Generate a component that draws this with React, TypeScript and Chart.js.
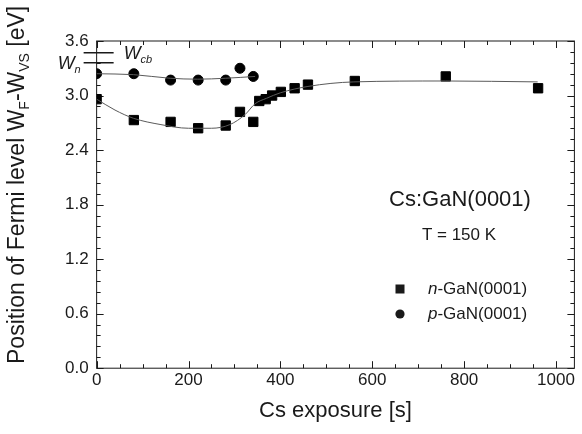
import React, { useEffect, useRef } from 'react';
import { Chart, registerables } from 'chart.js';

Chart.register(...registerables);

// ---- data ----
const nExposure = [0, 81, 161, 221, 281, 312, 341, 354, 368, 382, 401, 431, 460, 562, 760, 961];
const nLevel = [2.96, 2.73, 2.71, 2.64, 2.67, 2.82, 2.71, 2.94, 2.96, 3.0, 3.04, 3.08, 3.12, 3.16, 3.21, 3.08];
const pExposure = [0, 81, 161, 221, 281, 312, 341];
const pLevel = [3.24, 3.24, 3.17, 3.17, 3.17, 3.3, 3.21];

const nFitExposure = [0, 40, 80, 140, 200, 250, 290, 323, 345, 370, 400, 460, 560, 760, 960];
const nFitLevel = [2.96, 2.84, 2.75, 2.68, 2.64, 2.64, 2.68, 2.79, 2.91, 2.97, 3.03, 3.1, 3.15, 3.16, 3.15];
const pFitExposure = [0, 80, 160, 220, 280, 345];
const pFitLevel = [3.24, 3.23, 3.19, 3.18, 3.19, 3.21];

const xTicks = [0, 200, 400, 600, 800, 1000];
const xMinorTicks = [50, 100, 150, 250, 300, 350, 450, 500, 550, 650, 700, 750, 850, 900, 950];
const yTicks = [0, 0.6, 1.2, 1.8, 2.4, 3.0, 3.6];
const yMinorTicks = [0.12, 0.24, 0.36, 0.48, 0.72, 0.84, 0.96, 1.08, 1.32, 1.44, 1.56, 1.68, 1.92, 2.04, 2.16, 2.28, 2.52, 2.64, 2.76, 2.88, 3.12, 3.24, 3.36, 3.48];

const levelValues = [3.47, 3.36];
const levelNames = ['cb', 'n'];

const seriesNames = ['n', 'p'];
const sampleName = 'Cs:GaN(0001)';
const tempLabel = 'T = 150 K';
const xTitle = 'Cs exposure [s]';

const FONT = "Arial, 'Liberation Sans', sans-serif";
const INK = '#1a1a1a';

const toPts = (xs: number[], ys: number[]) => xs.map((x, i) => ({ x, y: ys[i] }));

const decorPlugin = {
  id: 'decor',
  beforeDatasetsDraw(chart: any) {
    const { ctx, chartArea: ca, scales } = chart;
    const xs = scales.x;
    const ys = scales.y;
    ctx.save();
    ctx.strokeStyle = INK;
    ctx.lineWidth = 1;
    ctx.strokeRect(ca.left, ca.top, ca.right - ca.left, ca.bottom - ca.top);
    const tick = (vals: number[], len: number) => {
      ctx.beginPath();
      vals.forEach((v) => {
        const px = Math.round(xs.getPixelForValue(v)) + 0.5;
        ctx.moveTo(px, ca.bottom);
        ctx.lineTo(px, ca.bottom - len);
        ctx.moveTo(px, ca.top);
        ctx.lineTo(px, ca.top + len);
      });
      ctx.stroke();
    };
    const tickY = (vals: number[], len: number) => {
      ctx.beginPath();
      vals.forEach((v) => {
        const py = Math.round(ys.getPixelForValue(v)) + 0.5;
        ctx.moveTo(ca.left, py);
        ctx.lineTo(ca.left + len, py);
        ctx.moveTo(ca.right, py);
        ctx.lineTo(ca.right - len, py);
      });
      ctx.stroke();
    };
    tick(xTicks, 7);
    tick(xMinorTicks, 4);
    tickY(yTicks, 7);
    tickY(yMinorTicks, 4);

    // band-level markers
    ctx.lineWidth = 1.6;
    ctx.beginPath();
    levelValues.forEach((v) => {
      const py = ys.getPixelForValue(v);
      ctx.moveTo(ca.left - 13, py);
      ctx.lineTo(ca.left + 17, py);
    });
    ctx.stroke();
    ctx.restore();
  },
  afterDatasetsDraw(chart: any) {
    const { ctx, chartArea: ca, scales } = chart;
    const ys = scales.y;
    ctx.save();
    ctx.fillStyle = INK;
    ctx.textBaseline = 'alphabetic';

    // level labels
    const yCb = ys.getPixelForValue(levelValues[0]);
    const yN = ys.getPixelForValue(levelValues[1]);
    ctx.font = `italic 18px ${FONT}`;
    ctx.textAlign = 'left';
    ctx.fillText('W', ca.left + 27, yCb + 6);
    let w = ctx.measureText('W').width;
    ctx.font = `italic 11px ${FONT}`;
    ctx.fillText(levelNames[0], ca.left + 27 + w, yCb + 10);
    ctx.font = `italic 18px ${FONT}`;
    ctx.fillText('W', ca.left - 39, yN + 6);
    w = ctx.measureText('W').width;
    ctx.font = `italic 11px ${FONT}`;
    ctx.fillText(levelNames[1], ca.left - 39 + w, yN + 10);

    // annotations
    ctx.textAlign = 'center';
    ctx.textBaseline = 'middle';
    ctx.font = `22px ${FONT}`;
    ctx.fillText(sampleName, 460, 200);
    ctx.font = `17px ${FONT}`;
    ctx.fillText(tempLabel, 459, 235);

    // legend
    const lx = 400;
    const rows = [289, 314];
    ctx.fillRect(lx - 4.5, rows[0] - 4.5, 9, 9);
    ctx.beginPath();
    ctx.arc(lx, rows[1], 4.6, 0, Math.PI * 2);
    ctx.fill();
    ctx.textAlign = 'left';
    rows.forEach((ry, i) => {
      ctx.font = `italic 17px ${FONT}`;
      ctx.fillText(seriesNames[i], 428, ry);
      const iw = ctx.measureText(seriesNames[i]).width;
      ctx.font = `17px ${FONT}`;
      ctx.fillText('-GaN(0001)', 428 + iw, ry);
    });

    // y-axis title with subscripts
    ctx.save();
    const big = 23;
    const small = 14;
    const parts: [string, number, number][] = [
      ['Position of Fermi level W', big, 0],
      ['F', small, 5],
      ['-W', big, 0],
      ['VS', small, 5],
      [' [eV]', big, 0],
    ];
    ctx.translate(24, 364);
    ctx.rotate(-Math.PI / 2);
    ctx.textAlign = 'left';
    ctx.textBaseline = 'alphabetic';
    let cx = 0;
    parts.forEach(([t, s, dy]) => {
      ctx.font = `${s}px ${FONT}`;
      ctx.fillText(t, cx, dy);
      cx += ctx.measureText(t).width;
    });
    ctx.restore();
    ctx.restore();
  },
};

export default function App() {
  const ref = useRef<HTMLCanvasElement | null>(null);
  useEffect(() => {
    if (!ref.current) return;
    const chart = new Chart(ref.current, {
      type: 'scatter',
      data: {
        datasets: [
          {
            type: 'line',
            data: toPts(nFitExposure, nFitLevel),
            borderColor: '#5a5a5a',
            borderWidth: 1,
            pointRadius: 0,
            cubicInterpolationMode: 'monotone',
            fill: false,
          } as any,
          {
            type: 'line',
            data: toPts(pFitExposure, pFitLevel),
            borderColor: '#5a5a5a',
            borderWidth: 1,
            pointRadius: 0,
            cubicInterpolationMode: 'monotone',
            fill: false,
          } as any,
          {
            data: toPts(nExposure, nLevel),
            pointStyle: 'rect',
            pointRadius: 6.6,
            backgroundColor: '#000',
            borderColor: '#000',
            borderWidth: 1,
          },
          {
            data: toPts(pExposure, pLevel),
            pointStyle: 'circle',
            pointRadius: 5,
            backgroundColor: '#000',
            borderColor: '#000',
            borderWidth: 1,
          },
        ],
      },
      options: {
        responsive: false,
        animation: false,
        layout: { padding: { left: 57, top: 41, right: 1, bottom: 10 } },
        plugins: { legend: { display: false }, tooltip: { enabled: false } },
        scales: {
          x: {
            type: 'linear',
            min: 0,
            max: 1040,
            afterBuildTicks: (s: any) => {
              s.ticks = xTicks.map((v) => ({ value: v }));
            },
            grid: { display: false, drawTicks: false },
            border: { display: false },
            ticks: {
              font: { family: FONT, size: 17 },
              color: INK,
              padding: 2,
              maxRotation: 0,
              autoSkip: false,
              callback: (v: any) => String(v),
            },
            title: {
              display: true,
              text: xTitle,
              font: { family: FONT, size: 22 },
              color: INK,
              padding: { top: 5, bottom: 0 },
            },
          },
          y: {
            min: 0,
            max: 3.6,
            afterBuildTicks: (s: any) => {
              s.ticks = yTicks.map((v) => ({ value: v }));
            },
            grid: { display: false, drawTicks: false },
            border: { display: false },
            ticks: {
              font: { family: FONT, size: 17 },
              color: INK,
              padding: 8,
              autoSkip: false,
              callback: (v: any) => Number(v).toFixed(1),
            },
          },
        },
      },
      plugins: [decorPlugin],
    });
    return () => chart.destroy();
  }, []);
  return (
    <div style={{ position: 'fixed', left: 0, top: 0, width: 582, height: 434, background: '#fff' }}>
      <canvas ref={ref} width={582} height={434} style={{ display: 'block' }} />
    </div>
  );
}
